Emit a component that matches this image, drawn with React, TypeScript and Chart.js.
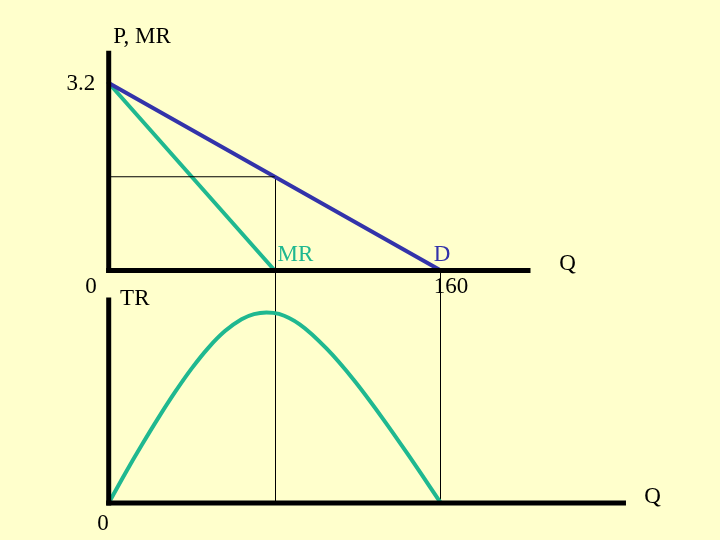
import React, { useEffect, useRef } from "react";
import { Chart, registerables } from "chart.js";

Chart.register(...registerables);

// ---- data ----
const demandQ = [0, 160];
const demandP = [3.2, 0];
const mrQ = [0, 80];
const mrP = [3.2, 0];
const trQ = [0, 8, 16, 24, 32, 40, 48, 56, 64, 70, 76, 82, 92, 105, 118, 131, 144, 160];
const trValues = [0, 20, 39, 57.2, 74.4, 90.2, 104, 115.2, 123.2, 126.6, 127.7, 126.7, 119.7, 103.4, 82.6, 58.6, 32.9, 0];
const midQ = 80;
const midP = 1.6;
const maxQ = 160;
const priceAxisTop = 3.71;
const topQAxisEnd = 202;
const trAxisTop = 136;
const bottomQAxisEnd = 248;

// text labels
const labelTexts = ["P, MR", "3.2", "0", "TR", "0", "MR", "D", "160", "Q", "Q"];
const labelQ = [2.2, -6.5, -11.3, 5.5, -5.5, 81.3, 156.6, 156.6, 217, 258];
const labelV = [3.88, 3.08, -0.38, 132.7, -18, 0.16, 0.16, -0.38, 0, 0];
const labelAxis = ["yP", "yP", "yP", "yTR", "yTR", "yP", "yP", "yP", "yP", "yTR"];

const BG = "#FFFFCC";
const GREEN = "#1FB890";
const BLUE = "#3333AA";
const labelColors = ["#000", "#000", "#000", "#000", "#000", GREEN, BLUE, "#000", "#000", "#000"];
const labelAlign: CanvasTextAlign[] = ["left", "right", "left", "left", "left", "left", "left", "left", "left", "left"];

const pts = (xs: number[], ys: number[]) => xs.map((x, i) => ({ x, y: ys[i] }));

export default function App() {
  const ref = useRef<HTMLCanvasElement | null>(null);

  useEffect(() => {
    document.body.style.background = BG;
    const canvas = ref.current!;
    const bgPlugin = {
      id: "bg",
      beforeDraw(chart: any) {
        const { ctx, width, height } = chart;
        ctx.save();
        ctx.fillStyle = BG;
        ctx.fillRect(0, 0, width, height);
        ctx.restore();
      },
    };
    const connectorPlugin = {
      id: "connectors",
      beforeDatasetsDraw(chart: any) {
        const { ctx, scales } = chart;
        const x = scales.x, yP = scales.yP, yTR = scales.yTR;
        ctx.save();
        ctx.strokeStyle = "#000";
        ctx.lineWidth = 1;
        ctx.beginPath();
        ctx.moveTo(Math.round(x.getPixelForValue(midQ)) + 0.5, yP.getPixelForValue(midP));
        ctx.lineTo(Math.round(x.getPixelForValue(midQ)) + 0.5, yTR.getPixelForValue(0));
        ctx.moveTo(Math.round(x.getPixelForValue(maxQ)) - 0.5, yP.getPixelForValue(0));
        ctx.lineTo(Math.round(x.getPixelForValue(maxQ)) - 0.5, yTR.getPixelForValue(0));
        ctx.stroke();
        ctx.restore();
      },
    };
    const labelPlugin = {
      id: "labels",
      afterDatasetsDraw(chart: any) {
        const { ctx, scales } = chart;
        ctx.save();
        ctx.font = '23px "Liberation Serif", "Times New Roman", serif';
        ctx.textBaseline = "alphabetic";
        labelTexts.forEach((t, i) => {
          ctx.fillStyle = labelColors[i];
          ctx.textAlign = labelAlign[i];
          ctx.fillText(t, scales.x.getPixelForValue(labelQ[i]), scales[labelAxis[i]].getPixelForValue(labelV[i]));
        });
        ctx.restore();
      },
    };

    const line = (data: any[], axis: string, color: string, width: number, extra: any = {}) => ({
      data,
      yAxisID: axis,
      showLine: true,
      borderColor: color,
      backgroundColor: color,
      borderWidth: width,
      pointRadius: 0,
      fill: false,
      ...extra,
    });

    const chart = new Chart(canvas, {
      type: "scatter",
      data: {
        datasets: [
          line(pts([0, midQ], [midP, midP]), "yP", "#000", 1),
          line(pts([0, 0], [0, priceAxisTop]), "yP", "#000", 5, { borderCapStyle: "square" }),
          line(pts([0, topQAxisEnd], [0, 0]), "yP", "#000", 5, { borderCapStyle: "square" }),
          line(pts([0, 0], [0, trAxisTop]), "yTR", "#000", 5, { borderCapStyle: "square" }),
          line(pts([0, bottomQAxisEnd], [0, 0]), "yTR", "#000", 5, { borderCapStyle: "square" }),
          line(pts(demandQ, demandP), "yP", BLUE, 4, { borderCapStyle: "round" }),
          line(pts(mrQ, mrP), "yP", GREEN, 4, { borderCapStyle: "round" }),
          line(pts(trQ, trValues), "yTR", GREEN, 4, { cubicInterpolationMode: "monotone", borderCapStyle: "round", borderJoinStyle: "round" }),
        ],
      },
      options: {
        animation: false,
        responsive: false,
        devicePixelRatio: 1,
        layout: { padding: 0 },
        plugins: { legend: { display: false }, tooltip: { enabled: false }, title: { display: false } },
        events: [],
        scales: {
          x: { type: "linear", min: -52.37, max: 294.5, display: false },
          yP: { type: "linear", axis: "y", min: -4.6, max: 4.617, display: false },
          yTR: { type: "linear", axis: "y", min: -24.8, max: 337.1, display: false },
        },
      } as any,
      plugins: [bgPlugin, connectorPlugin, labelPlugin],
    });
    return () => chart.destroy();
  }, []);

  return (
    <div style={{ position: "fixed", left: 0, top: 0, width: 720, height: 540, background: BG }}>
      <canvas ref={ref} width={720} height={540} style={{ display: "block", width: 720, height: 540 }} />
    </div>
  );
}
